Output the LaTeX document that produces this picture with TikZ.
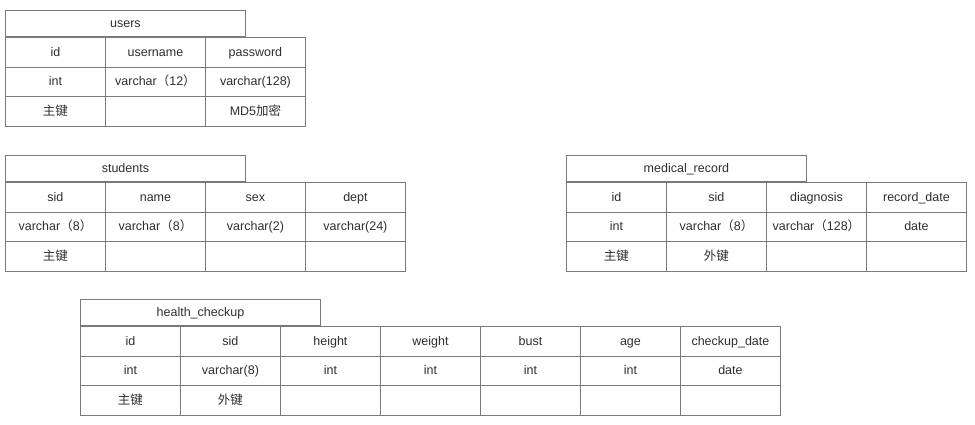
\documentclass[tikz,border=0pt]{standalone}
\usepackage{fontspec}
\setmainfont{Liberation Sans}
\newfontfamily\cjk{Noto Sans CJK SC}
\definecolor{linegray}{HTML}{7A7A7A}
\definecolor{txt}{HTML}{2E2E2E}
\newcommand\fl{{\cjk （}}
\newcommand\fr{{\cjk ）}}
\newcommand\dbtable[5]{%
  \node[tbltitle] (#1-title) at (#2,#3) {#4};
  \foreach \h/\t/\k [count=\i from 0] in {#5} {
    \node[cell] (#1-h\i) at ({#2+\i*100},{#3+27}) {\h};
    \node[cell] (#1-t\i) at ({#2+\i*100},{#3+56.5}) {\t};
    \node[cell] (#1-k\i) at ({#2+\i*100},{#3+86}) {\k};
  }%
}
\begin{document}
\begin{tikzpicture}[x=1pt,y=-1pt,
  cell/.style={draw=linegray, line width=0.9pt, minimum width=100pt, minimum height=29.5pt,
    inner sep=0pt, text height=10pt, text depth=2pt, anchor=north west, text=txt,
    font=\fontsize{12.5}{14}\selectfont},
  tbltitle/.style={cell, minimum width=240pt, minimum height=26pt}]
\useasboundingbox (0,0) rectangle (975,424);
\dbtable{users}{5}{10}{users}{
  id/int/{\cjk 主键},
  username/{varchar\fl 12\fr}/{},
  password/{varchar(128)}/{MD5{\cjk 加密}}}
\dbtable{students}{5}{155}{students}{
  sid/{varchar\fl 8\fr}/{\cjk 主键},
  name/{varchar\fl 8\fr}/{},
  sex/{varchar(2)}/{},
  dept/{varchar(24)}/{}}
\dbtable{medical}{566}{155}{medical\_record}{
  id/int/{\cjk 主键},
  sid/{varchar\fl 8\fr}/{\cjk 外键},
  diagnosis/{varchar\fl 128\fr}/{},
  record\_date/date/{}}
\dbtable{health}{80}{299}{health\_checkup}{
  id/int/{\cjk 主键},
  sid/{varchar(8)}/{\cjk 外键},
  height/int/{},
  weight/int/{},
  bust/int/{},
  age/int/{},
  checkup\_date/date/{}}
\end{tikzpicture}
\end{document}
